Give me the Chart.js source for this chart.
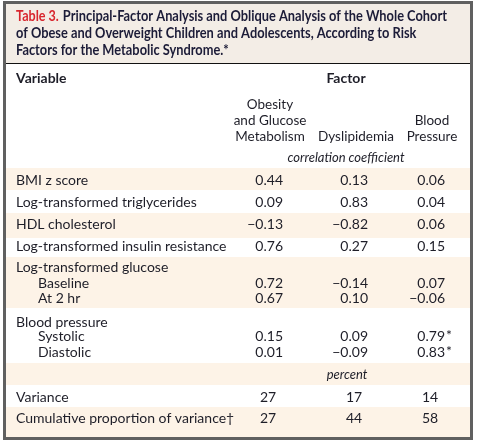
<!DOCTYPE html>
<html>
<head>
<meta charset="utf-8">
<script src="https://cdn.jsdelivr.net/npm/chart.js@4.4.1/dist/chart.umd.min.js"></script>
<style>
  html, body { margin: 0; padding: 0; background: #fff; }
  #wrap { width: 480px; height: 440px; }
</style>
</head>
<body>
<div id="wrap"><canvas id="factorTable" width="480" height="440"></canvas></div>
<script>
// ---- data ----
const titleNumber = 'Table 3.';
const titleLines = [
    'Principal-Factor Analysis and Oblique Analysis of the Whole Cohort',
    'of Obese and Overweight Children and Adolescents, According to Risk',
    'Factors for the Metabolic Syndrome.*'
];
const factorNames = [['Obesity', 'and Glucose', 'Metabolism'], ['Dyslipidemia'], ['Blood', 'Pressure']];
const variables = ['BMI z score', 'Log-transformed triglycerides', 'HDL cholesterol',
    'Log-transformed insulin resistance', 'Log-transformed glucose', 'Baseline', 'At 2 hr',
    'Blood pressure', 'Systolic', 'Diastolic'];
const obesityGlucose = [0.44, 0.09, -0.13, 0.76, null, 0.72, 0.67, null, 0.15, 0.01];
const dyslipidemia   = [0.13, 0.83, -0.82, 0.27, null, -0.14, 0.10, null, 0.09, -0.09];
const bloodPressure  = [0.06, 0.04, 0.06, 0.15, null, 0.07, -0.06, null, 0.79, 0.83];
const bpStarred      = [false, false, false, false, false, false, false, false, true, true];
const varianceLabels = ['Variance', 'Cumulative proportion of variance\u2020'];
const variance       = [27, 17, 14];
const cumulative     = [27, 44, 58];

// ---- layout (pixels) ----
const rowY = [180, 202, 224, 246, 267, 283, 298, 322, 336, 352];
const indented = [false, false, false, false, false, true, true, false, true, true];
const varRowY = [397, 418];
const colRight = [283, 368, 445];   // right edge of decimals
const colCenter = [270, 356, 432];  // header / integer centres
const bands = [[168, 190, true], [190, 213, false], [213, 238, true], [238, 257, false],
    [257, 308, true], [308, 363, false], [363, 385, true], [385, 407, false], [407, 437, true]];

const FONT = 'Lato, "Open Sans", sans-serif';
const BEIGE = '#fdf3e7';
const TEXT = '#1e1e28';

const fmt = v => (v < 0 ? '\u2212' : '') + Math.abs(v).toFixed(2);

function cellPoints(values) {
    const pts = [];
    values.forEach((v, i) => { if (v !== null) pts.push({ x: 0, y: rowY[i], v: v, row: i }); });
    return pts;
}

const datasets = [obesityGlucose, dyslipidemia, bloodPressure].map((vals, c) => ({
    label: factorNames[c].join(' '),
    data: cellPoints(vals).map(p => ({ ...p, x: colRight[c] })),
    pointRadius: 0
}));
const intDatasets = [variance, cumulative].map((vals, r) => ({
    label: varianceLabels[r],
    data: vals.map((v, c) => ({ x: colCenter[c] - 2, y: varRowY[r], v: v })),
    pointRadius: 0
}));

function put(ctx, text, x, y, font, color, align, fitWidth) {
    ctx.save();
    ctx.font = font;
    ctx.fillStyle = color;
    ctx.textBaseline = 'middle';
    ctx.textAlign = align || 'left';
    if (fitWidth) {
        const w = ctx.measureText(text).width;
        ctx.translate(x, y);
        ctx.scale(fitWidth / w, 1);
        ctx.fillText(text, 0, 0);
    } else {
        ctx.fillText(text, x, y);
    }
    ctx.restore();
}

const tablePlugin = {
    id: 'tablePlugin',
    beforeDatasetsDraw(chart) {
        const { ctx, scales: { x, y } } = chart;
        ctx.save();
        // title block
        ctx.fillStyle = '#f3ede6';
        ctx.fillRect(x.getPixelForValue(5), y.getPixelForValue(4), x.getPixelForValue(470) - x.getPixelForValue(5), 59);
        // row bands
        bands.forEach(([a, b, shade]) => {
            if (!shade) return;
            ctx.fillStyle = BEIGE;
            ctx.fillRect(x.getPixelForValue(6), y.getPixelForValue(a), 464, y.getPixelForValue(b) - y.getPixelForValue(a));
        });
        // rule under title
        ctx.fillStyle = '#111';
        ctx.fillRect(5, y.getPixelForValue(63), 466, 1);
        // frame
        ctx.strokeStyle = '#606060';
        ctx.lineWidth = 3;
        ctx.strokeRect(4.5, 2.5, 467, 436);
        ctx.restore();

        // title
        ctx.save();
        ctx.font = 'bold 15px ' + FONT;
        const numW = ctx.measureText(titleNumber + ' ').width;
        const l1W = ctx.measureText(titleLines[0]).width;
        ctx.restore();
        const sx = 431 / (numW + l1W);
        put(ctx, titleNumber, 16, 16, 'bold 15px ' + FONT, '#d8262e', 'left', numW * sx - 4);
        put(ctx, titleLines[0], 16 + numW * sx, 16, 'bold 15px ' + FONT, '#1c1c38', 'left', l1W * sx);
        [titleLines[1], titleLines[2]].forEach((t, i) => {
            ctx.save();
            ctx.font = 'bold 15px ' + FONT;
            const w = ctx.measureText(t).width;
            ctx.restore();
            put(ctx, t, 16, 33 + i * 17, 'bold 15px ' + FONT, '#1c1c38', 'left', w * sx);
        });

        // header
        put(ctx, 'Variable', 16, 78, 'bold 14px ' + FONT, TEXT);
        put(ctx, 'Factor', 346, 78, 'bold 14px ' + FONT, TEXT, 'center');
        factorNames.forEach((lines, c) => {
            const top = 137 - (lines.length - 1) * 16;
            lines.forEach((t, k) => put(ctx, t, colCenter[c], top + k * 16, '13.5px ' + FONT, TEXT, 'center'));
        });
        put(ctx, 'correlation coefficient', 346, 158, 'italic 13px ' + FONT, TEXT, 'center');
        put(ctx, 'percent', 347, 375, 'italic 13px ' + FONT, TEXT, 'center');

        // row labels
        variables.forEach((t, i) => put(ctx, t, indented[i] ? 38 : 16, rowY[i], '14px ' + FONT, TEXT));
        varianceLabels.forEach((t, i) => put(ctx, t, 16, varRowY[i], '14px ' + FONT, TEXT));
    },
    afterDatasetsDraw(chart) {
        const ctx = chart.ctx;
        chart.data.datasets.forEach((ds, d) => {
            const meta = chart.getDatasetMeta(d);
            meta.data.forEach((el, k) => {
                const p = ds.data[k];
                if (d < 3) {
                    put(ctx, fmt(p.v), el.x, el.y, '14px ' + FONT, TEXT, 'right');
                    if (d === 2 && bpStarred[p.row]) put(ctx, '*', el.x + 1, el.y - 1, '14px ' + FONT, TEXT, 'left');
                } else {
                    put(ctx, String(p.v), el.x, el.y, '14px ' + FONT, TEXT, 'center');
                }
            });
        });
    }
};

new Chart(document.getElementById('factorTable'), {
    type: 'scatter',
    data: { datasets: datasets.concat(intDatasets) },
    options: {
        responsive: false,
        animation: false,
        layout: { padding: 0 },
        plugins: { legend: { display: false }, tooltip: { enabled: false } },
        scales: {
            x: { type: 'linear', min: 0, max: 480, display: false },
            y: { type: 'linear', min: 0, max: 440, reverse: true, display: false }
        }
    },
    plugins: [tablePlugin]
});
</script>
</body>
</html>
